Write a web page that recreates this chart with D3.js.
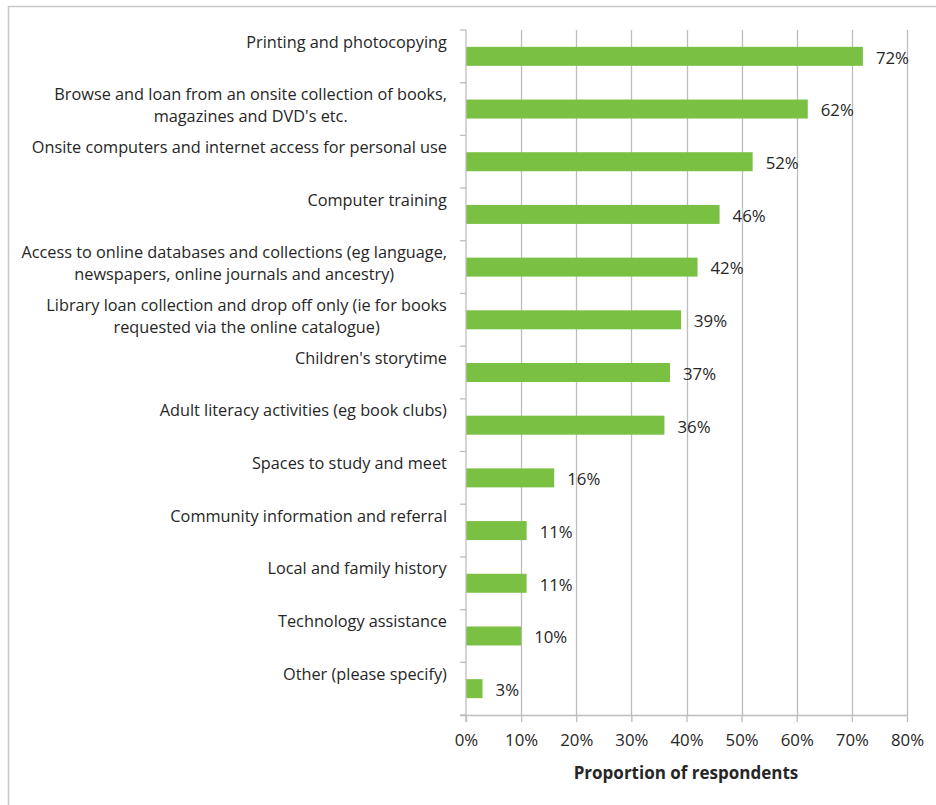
<!DOCTYPE html>
<html>
<head>
<meta charset="utf-8">
<script src="https://cdn.jsdelivr.net/npm/d3@7"></script>
<style>
  html, body { margin: 0; padding: 0; background: #fff; }
  svg { display: block; }
  text { font-family: "Open Sans", Lato, sans-serif; fill: #262626; }
</style>
</head>
<body>
<svg id="chart" width="936" height="805"></svg>
<script>
// Services, top to bottom; multi-line labels split on "\n"
const categories = [
  "Printing and photocopying",
  "Browse and loan from an onsite collection of books,\nmagazines and DVD's etc.",
  "Onsite computers and internet access for personal use",
  "Computer training",
  "Access to online databases and collections (eg language,\nnewspapers, online journals and ancestry)",
  "Library loan collection and drop off only (ie for books\nrequested via the online catalogue)",
  "Children's storytime",
  "Adult literacy activities (eg book clubs)",
  "Spaces to study and meet",
  "Community information and referral",
  "Local and family history",
  "Technology assistance",
  "Other (please specify)"
];
const values = [72, 62, 52, 46, 42, 39, 37, 36, 16, 11, 11, 10, 3];
const xTicks = [0, 10, 20, 30, 40, 50, 60, 70, 80];
const xTitle = "Proportion of respondents";

const svg = d3.select("#chart");
const margin = { left: 466, right: 29, top: 30, bottom: 90 };
const W = 936, H = 805;
const labelSize = 16.3;
const numSize = 16.8;

// outer frame
svg.append("rect")
  .attr("x", 8.5).attr("y", 6.5)
  .attr("width", W + 20).attr("height", H + 20)
  .attr("fill", "none").attr("stroke", "#c8c8c8").attr("stroke-width", 1.5);

const x = d3.scaleLinear().domain([0, 80]).range([margin.left, W - margin.right]);
const y = d3.scaleBand().domain(d3.range(categories.length))
  .range([margin.top, H - margin.bottom]).paddingInner(0).paddingOuter(0);

const grid = "#bdbdbd";

// vertical gridlines
svg.append("g").selectAll("line").data(xTicks.slice(1)).join("line")
  .attr("x1", d => Math.round(x(d)) + 0.5).attr("x2", d => Math.round(x(d)) + 0.5)
  .attr("y1", y.range()[0]).attr("y2", y.range()[1])
  .attr("stroke", grid).attr("stroke-width", 1.3);

// bars
svg.append("g").selectAll("rect").data(values).join("rect")
  .attr("x", x(0))
  .attr("y", (d, i) => y(i) + y.bandwidth() / 2 - 9.5)
  .attr("width", d => x(d) - x(0))
  .attr("height", 19)
  .attr("fill", "#7ac143");

// value labels
svg.append("g").selectAll("text").data(values).join("text")
  .attr("x", d => x(d) + 13)
  .attr("y", (d, i) => y(i) + y.bandwidth() / 2 + 1.5)
  .attr("dy", "0.35em")
  .attr("font-size", numSize)
  .text(d => d + "%");

// x axis
const xAxis = d3.axisBottom(x)
  .tickValues(xTicks)
  .tickFormat(d => d + "%")
  .tickSize(7).tickSizeOuter(0).tickPadding(12);
const gx = svg.append("g")
  .attr("transform", `translate(0,${y.range()[1]})`)
  .call(xAxis);
gx.select(".domain").attr("stroke", grid).attr("stroke-width", 1.3)
  .attr("d", `M${x(0) - 6},0.5H${x(80)}`);
gx.selectAll(".tick line").attr("stroke", grid).attr("stroke-width", 1.3);
gx.selectAll(".tick text").attr("font-size", numSize).attr("fill", "#262626")
  .attr("font-family", "'Open Sans', Lato, sans-serif");

// y axis line with ticks on band boundaries
const gy = svg.append("g");
gy.append("line")
  .attr("x1", x(0)).attr("x2", x(0))
  .attr("y1", y.range()[0]).attr("y2", y.range()[1] + 7)
  .attr("stroke", grid).attr("stroke-width", 1.3);
gy.selectAll(".yt").data(d3.range(categories.length + 1)).join("line")
  .attr("class", "yt")
  .attr("x1", x(0) - 6).attr("x2", x(0))
  .attr("y1", i => y.range()[0] + i * y.bandwidth())
  .attr("y2", i => y.range()[0] + i * y.bandwidth())
  .attr("stroke", grid).attr("stroke-width", 1.3);

// category labels, top-aligned in each band; lines centred within a right-aligned block
const labelRight = 447;
const lab = svg.append("g").selectAll("g").data(categories).join("g");
lab.each(function (d, i) {
  const lines = d.split("\n");
  const g = d3.select(this);
  const t = g.append("text")
    .attr("font-size", labelSize)
    .attr("text-anchor", "middle");
  lines.forEach((ln, k) => {
    t.append("tspan").attr("x", 0).attr("y", y(i) + 17.5 + k * 22).text(ln);
  });
  const w = t.node().getBBox().width;
  t.attr("transform", `translate(${labelRight - w / 2},0)`);
});

// axis title
svg.append("text")
  .attr("x", 686).attr("y", 779)
  .attr("text-anchor", "middle")
  .attr("font-size", 17).attr("font-weight", "bold")
  .text(xTitle);
</script>
</body>
</html>
